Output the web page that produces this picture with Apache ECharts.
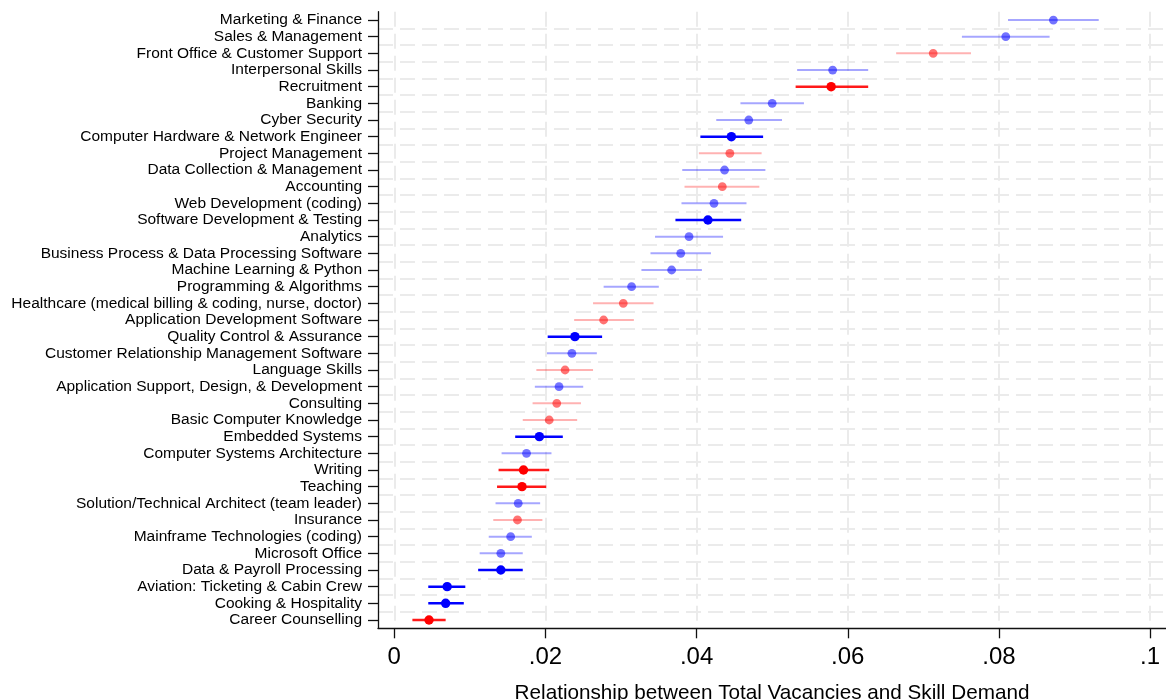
<!DOCTYPE html>
<html>
<head>
<meta charset="utf-8">
<script src="https://cdn.jsdelivr.net/npm/echarts@6/dist/echarts.min.js"></script>
<style>
html,body{margin:0;padding:0;background:#fff;}
#chart{width:1166px;height:700px;}
</style>
</head>
<body>
<div id="chart"></div>
<script>
const categories = [
  "Marketing & Finance",
  "Sales & Management",
  "Front Office & Customer Support",
  "Interpersonal Skills",
  "Recruitment",
  "Banking",
  "Cyber Security",
  "Computer Hardware & Network Engineer",
  "Project Management",
  "Data Collection & Management",
  "Accounting",
  "Web Development (coding)",
  "Software Development & Testing",
  "Analytics",
  "Business Process & Data Processing Software",
  "Machine Learning & Python",
  "Programming & Algorithms",
  "Healthcare (medical billing & coding, nurse, doctor)",
  "Application Development Software",
  "Quality Control & Assurance",
  "Customer Relationship Management Software",
  "Language Skills",
  "Application Support, Design, & Development",
  "Consulting",
  "Basic Computer Knowledge",
  "Embedded Systems",
  "Computer Systems Architecture",
  "Writing",
  "Teaching",
  "Solution/Technical Architect (team leader)",
  "Insurance",
  "Mainframe Technologies (coding)",
  "Microsoft Office",
  "Data & Payroll Processing",
  "Aviation: Ticketing & Cabin Crew",
  "Cooking & Hospitality",
  "Career Counselling"
];
const estimate = [0.0872,0.0809,0.0713,0.0580,0.0578,0.0500,0.0469,0.0446,0.0444,0.0437,0.0434,0.0423,0.0415,0.0390,0.0379,0.0367,0.0314,0.0303,0.0277,0.0239,0.0235,0.0226,0.0218,0.0215,0.0205,0.0192,0.0175,0.0171,0.0169,0.0164,0.0163,0.0154,0.0141,0.0141,0.0070,0.0068,0.0046];
const lower = [0.0812,0.0751,0.0664,0.0533,0.0531,0.0458,0.0426,0.0405,0.0403,0.0381,0.0384,0.0380,0.0372,0.0345,0.0339,0.0327,0.0277,0.0263,0.0238,0.0203,0.0202,0.0188,0.0186,0.0183,0.0170,0.0160,0.0142,0.0138,0.0136,0.0134,0.0131,0.0125,0.0113,0.0111,0.0045,0.0045,0.0024];
const upper = [0.0932,0.0867,0.0763,0.0627,0.0627,0.0542,0.0513,0.0488,0.0486,0.0491,0.0483,0.0466,0.0459,0.0435,0.0419,0.0407,0.0350,0.0343,0.0317,0.0275,0.0268,0.0263,0.0250,0.0247,0.0242,0.0223,0.0208,0.0205,0.0201,0.0193,0.0196,0.0182,0.0170,0.0170,0.0094,0.0092,0.0068];
// B = blue (strong), b = blue (faded), R = red (strong), r = red (faded)
const group = ["b","b","r","b","R","b","b","B","r","b","r","b","B","b","b","b","b","r","r","B","b","r","b","r","r","B","b","R","R","b","r","b","b","B","B","B","R"];
const xTickValues = [0, 0.02, 0.04, 0.06, 0.08, 0.1];
const xTickLabels = ["0", ".02", ".04", ".06", ".08", ".1"];
const xTitle = "Relationship between Total Vacancies and Skill Demand";

const styles = {
  B: {dot: "rgba(0,0,255,1)", line: "rgba(0,0,255,1)", lw: 2.5, r: 4.7},
  b: {dot: "rgba(0,0,255,0.55)", line: "rgba(0,0,255,0.35)", lw: 2, r: 4.4},
  R: {dot: "rgba(255,0,0,1)", line: "rgba(255,0,0,0.9)", lw: 2.5, r: 4.7},
  r: {dot: "rgba(255,0,0,0.55)", line: "rgba(255,0,0,0.3)", lw: 2, r: 4.4}
};

const data = categories.map((c, i) => [i, lower[i], upper[i], estimate[i], group[i]]);

const chart = echarts.init(document.getElementById('chart'), null, {renderer: 'canvas'});
const font = "'Liberation Sans', Arial, Helvetica, sans-serif";

chart.setOption({
  animation: false,
  backgroundColor: '#fff',
  grid: {left: 378, right: 0, top: 11.7, bottom: 71.7, containLabel: false, outerBoundsMode: 'none'},
  xAxis: {
    type: 'value',
    min: -0.00215,
    max: 0.1021,
    axisLine: {show: true, onZero: false, lineStyle: {color: '#111', width: 1.3}},
    axisTick: {show: true, length: 10, customValues: xTickValues, lineStyle: {color: '#111', width: 1.3}},
    axisLabel: {
      customValues: xTickValues,
      margin: 17,
      fontSize: 24,
      fontFamily: font,
      color: '#000',
      formatter: function (v) {
        const idx = xTickValues.findIndex(t => Math.abs(t - v) < 1e-9);
        return idx >= 0 ? xTickLabels[idx] : '';
      }
    },
    splitLine: {show: true, lineStyle: {color: '#ebebeb', width: 2, type: [15, 7]}},
    name: xTitle,
    nameLocation: 'middle',
    nameGap: 54,
    nameTextStyle: {fontSize: 20.7, fontFamily: font, color: '#000'}
  },
  yAxis: {
    type: 'category',
    data: categories,
    inverse: true,
    boundaryGap: true,
    axisLine: {show: true, onZero: false, lineStyle: {color: '#111', width: 1.3}},
    axisTick: {show: true, alignWithLabel: true, length: 10, lineStyle: {color: '#111', width: 1.3}},
    axisLabel: {margin: 16, fontSize: 15.5, fontFamily: font, color: '#000', interval: 0},
    splitLine: {show: true, showMinLine: false, showMaxLine: false, lineStyle: {color: '#ebebeb', width: 2, type: [15, 7]}}
  },
  series: [{
    type: 'custom',
    data: data,
    encode: {x: [1, 2, 3], y: 0},
    renderItem: function (params, api) {
      const i = api.value(0);
      const st = styles[group[i]];
      const p0 = api.coord([api.value(1), i]);
      const p1 = api.coord([api.value(2), i]);
      const pc = api.coord([api.value(3), i]);
      return {
        type: 'group',
        children: [
          {type: 'line', shape: {x1: p0[0], y1: p0[1], x2: p1[0], y2: p1[1]}, style: {stroke: st.line, lineWidth: st.lw}},
          {type: 'circle', shape: {cx: pc[0], cy: pc[1], r: st.r}, style: {fill: st.dot}}
        ]
      };
    }
  }]
});
</script>
</body>
</html>
